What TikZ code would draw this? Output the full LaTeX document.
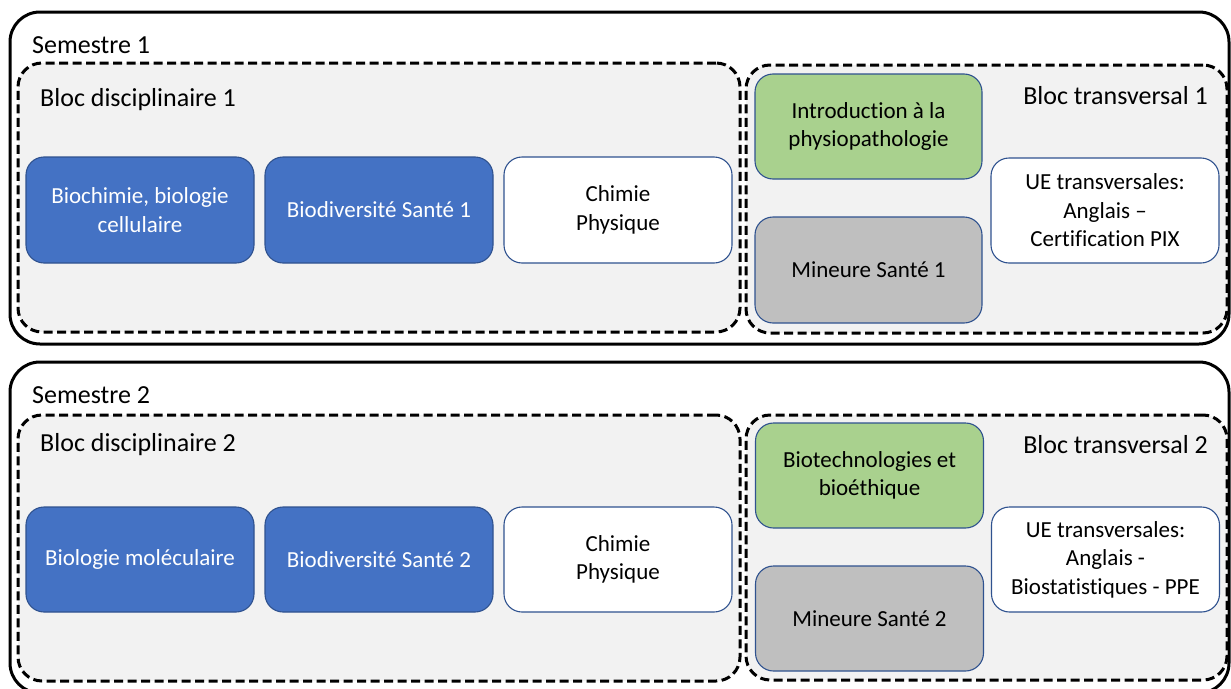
\documentclass[tikz,border=0pt]{standalone}
\usepackage{fontspec}
\setmainfont{Carlito}[Ligatures={NoCommon}]
\definecolor{fillblue}{HTML}{4472C4}
\definecolor{edgeblue}{HTML}{2F528F}
\definecolor{fillgreen}{HTML}{A9D18E}
\definecolor{fillgray}{HTML}{BFBFBF}
\definecolor{blocgray}{HTML}{F2F2F2}
\begin{document}
\begin{tikzpicture}[x=1pt,y=-1pt,
  semester/.style={rectangle, draw=black, line width=3pt, rounded corners=30pt, fill=white, inner sep=0pt},
  bloc/.style={rectangle, draw=black, line width=3pt, dash pattern=on 9pt off 4.5pt, rounded corners=24pt, fill=blocgray, inner sep=0pt},
  ue/.style={rectangle, draw=edgeblue, line width=1.1pt, rounded corners=18pt, align=center, inner sep=2pt,
    minimum width=228pt, minimum height=106pt, font=\fontsize{23}{28.5}\selectfont},
  bluebox/.style={ue, fill=fillblue, text=white},
  greenbox/.style={ue, fill=fillgreen},
  graybox/.style={ue, fill=fillgray},
  whitebox/.style={ue, fill=white},
  lab/.style={inner sep=0pt, font=\fontsize{26}{30}\selectfont}
]
\useasboundingbox (0,0) rectangle (1231,688);
\clip (0,0) rectangle (1231,688);
\fill[white] (0,0) rectangle (1231,688);

% Semester 1
\node[semester, minimum width=1219pt, minimum height=332pt] (s1) at (619.5,178) {};
\node[bloc, minimum width=722pt, minimum height=269pt] (d1) at (379,197.5) {};
\node[bloc, minimum width=481pt, minimum height=268pt] (t1) at (986.5,199) {};
\node[lab, anchor=west] (s1lab) at (32,45) {Semestre 1};
\node[lab, anchor=west] (d1lab) at (40,100) {Bloc disciplinaire 1};
\node[lab, anchor=east] (t1lab) at (1208,96) {Bloc transversal 1};
\node[bluebox] (bc1) at (140,210) {Biochimie, biologie\\cellulaire};
\node[bluebox] (bd1) at (379,210) {Biodiversité Santé 1};
\node[whitebox] (cp1) at (618,210) {Chimie\\Physique};
\node[greenbox, minimum width=227pt, minimum height=105pt] (ip1) at (868.5,126.5) {Introduction à la\\physiopathologie};
\node[graybox, minimum width=227pt] (ms1) at (868.5,270) {Mineure Santé 1};
\node[whitebox, minimum height=105pt] (ue1) at (1105,210.5) {UE transversales:\\Anglais –\\Certification PIX};

% Semester 2
\node[semester, minimum width=1219pt, minimum height=331pt] (s2) at (619.5,527.5) {};
\node[bloc, minimum width=722pt, minimum height=266pt] (d2) at (379,548) {};
\node[bloc, minimum width=481pt, minimum height=265pt] (t2) at (986.5,547.5) {};
\node[lab, anchor=west] (s2lab) at (32,395) {Semestre 2};
\node[lab, anchor=west] (d2lab) at (40,445) {Bloc disciplinaire 2};
\node[lab, anchor=east] (t2lab) at (1208,445) {Bloc transversal 2};
\node[bluebox, minimum height=105pt] (bm2) at (140,559.5) {Biologie moléculaire};
\node[bluebox, minimum height=105pt] (bd2) at (379,559.5) {Biodiversité Santé 2};
\node[whitebox, minimum height=105pt] (cp2) at (618,559.5) {Chimie\\Physique};
\node[greenbox, minimum width=228pt, minimum height=105pt] (bt2) at (869.5,475.5) {Biotechnologies et\\bioéthique};
\node[graybox, minimum width=228pt, minimum height=105pt] (ms2) at (869.5,618.5) {Mineure Santé 2};
\node[whitebox, minimum height=105pt] (ue2) at (1105.5,559.5) {UE transversales:\\Anglais -\\Biostatistiques - PPE};
\end{tikzpicture}
\end{document}
